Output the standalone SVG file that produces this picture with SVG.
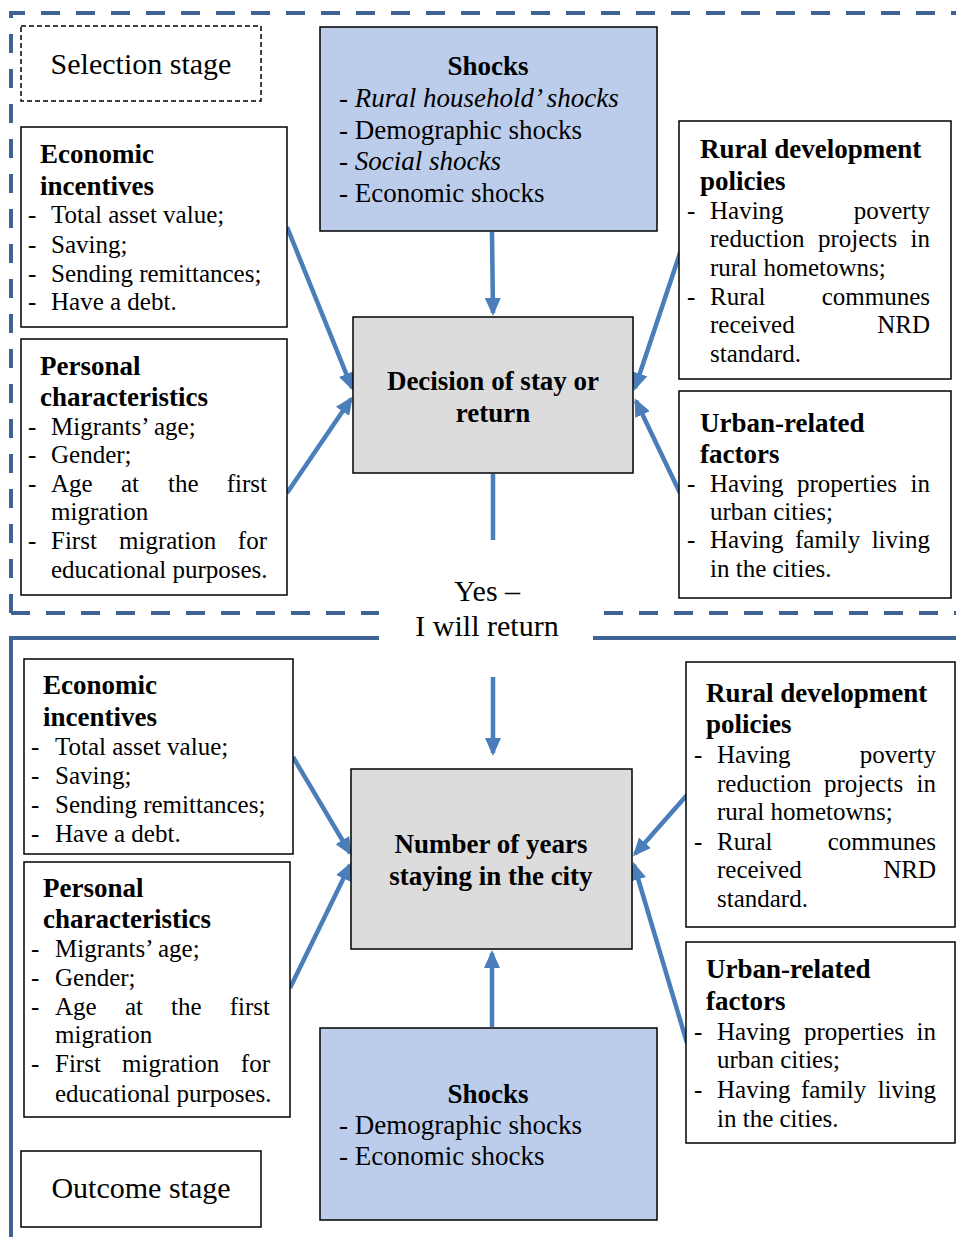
<svg xmlns="http://www.w3.org/2000/svg" width="956" height="1237" viewBox="0 0 956 1237">
<style>
text{font-family:"Liberation Serif","Times New Roman",serif;fill:#000}
.b{font-size:25px}
.h{font-size:27px;font-weight:bold}
.s{font-size:27px}
.lab{font-size:30px}
.i{font-style:italic}
.box{fill:#fff;stroke:#000;stroke-width:1.5}
.shock{fill:#BCCDEC;stroke:#000;stroke-width:1.5}
.grey{fill:#DCDCDC;stroke:#000;stroke-width:1.5}
.frame{fill:none;stroke:#3F6494;stroke-width:4}
.conn{stroke:#4A7EBB;stroke-width:4.5;fill:none}
</style>
<defs>
<marker id="ah" markerUnits="userSpaceOnUse" markerWidth="18" markerHeight="16" viewBox="0 0 18 16" refX="15" refY="8" orient="auto">
<path d="M0,0 L18,8 L0,16 Z" fill="#4A7EBB"/>
</marker>
</defs>
<rect width="956" height="1237" fill="#fff"/>
<g id="frames">
<path class="frame" d="M11,613 V13 H956" stroke-dasharray="19 16"/>
<path class="frame" d="M11,613 H379" stroke-dasharray="19 16"/>
<path class="frame" d="M604,613 H956" stroke-dasharray="19 16"/>
<path class="frame" d="M379,638 H11 V1237"/>
<path class="frame" d="M593,638 H956"/>
</g>
<g id="connectors">
<line class="conn" x1="492" y1="232" x2="493" y2="313" marker-end="url(#ah)"/>
<line class="conn" x1="287" y1="227" x2="352" y2="388" marker-end="url(#ah)"/>
<line class="conn" x1="287" y1="493" x2="351" y2="399" marker-end="url(#ah)"/>
<line class="conn" x1="681" y1="250" x2="635" y2="388" marker-end="url(#ah)"/>
<line class="conn" x1="680" y1="493" x2="636" y2="401" marker-end="url(#ah)"/>
<line class="conn" x1="493" y1="474" x2="493" y2="540"/>
<line class="conn" x1="493" y1="677" x2="493" y2="753" marker-end="url(#ah)"/>
<line class="conn" x1="293" y1="757" x2="350" y2="853" marker-end="url(#ah)"/>
<line class="conn" x1="290" y1="988" x2="350" y2="865" marker-end="url(#ah)"/>
<line class="conn" x1="687" y1="795" x2="635" y2="854" marker-end="url(#ah)"/>
<line class="conn" x1="687" y1="1043" x2="634" y2="865" marker-end="url(#ah)"/>
<line class="conn" x1="492" y1="1027" x2="492" y2="953" marker-end="url(#ah)"/>
</g>
<g id="selection-stage">
<rect x="21" y="26" width="240" height="75" fill="#fff" stroke="#000" stroke-width="1.5" stroke-dasharray="5 3"/>
<text class="lab" x="141" y="74" text-anchor="middle">Selection stage</text>
</g>
<g id="shocks-top">
<rect class="shock" x="320" y="27" width="337" height="204"/>
<text class="h" x="488" y="75" text-anchor="middle">Shocks</text>
<text class="s" x="339" y="107">- <tspan class="i">Rural household’ shocks</tspan></text>
<text class="s" x="339" y="139">- Demographic shocks</text>
<text class="s" x="339" y="170">- <tspan class="i">Social shocks</tspan></text>
<text class="s" x="339" y="202">- Economic shocks</text>
</g>
<g id="econ-top">
<rect class="box" x="21" y="127" width="266" height="200"/>
<text class="h" x="40" y="163">Economic</text>
<text class="h" x="40" y="195">incentives</text>
<text class="b" x="28" y="223">-</text><text class="b" x="51" y="223">Total asset value;</text>
<text class="b" x="28" y="253">-</text><text class="b" x="51" y="253">Saving;</text>
<text class="b" x="28" y="282">-</text><text class="b" x="51" y="282">Sending remittances;</text>
<text class="b" x="28" y="310">-</text><text class="b" x="51" y="310">Have a debt.</text>
</g>
<g id="pers-top">
<rect class="box" x="21" y="339" width="266" height="256"/>
<text class="h" x="40" y="375">Personal</text>
<text class="h" x="40" y="406">characteristics</text>
<text class="b" x="28" y="435">-</text><text class="b" x="51" y="435">Migrants’ age;</text>
<text class="b" x="28" y="463">-</text><text class="b" x="51" y="463">Gender;</text>
<text class="b" x="28" y="492">-</text><text class="b" x="51" y="492">Age</text><text class="b" x="121" y="492">at</text><text class="b" x="168" y="492">the</text><text class="b" x="267" y="492" text-anchor="end">first</text>
<text class="b" x="51" y="520">migration</text>
<text class="b" x="28" y="549">-</text><text class="b" x="51" y="549">First</text><text class="b" x="119" y="549">migration</text><text class="b" x="267" y="549" text-anchor="end">for</text>
<text class="b" x="51" y="578">educational purposes.</text>
</g>
<g id="decision">
<rect class="grey" x="353" y="317" width="280" height="156"/>
<text class="h" x="493" y="390" text-anchor="middle">Decision of stay or</text>
<text class="h" x="493" y="422" text-anchor="middle">return</text>
</g>
<g id="rural-top">
<rect class="box" x="679" y="121" width="272" height="258"/>
<text class="h" x="700" y="158">Rural development</text>
<text class="h" x="700" y="190">policies</text>
<text class="b" x="687" y="219">-</text><text class="b" x="710" y="219">Having</text><text class="b" x="930" y="219" text-anchor="end">poverty</text>
<text class="b" x="710" y="247">reduction</text><text class="b" x="818" y="247">projects</text><text class="b" x="930" y="247" text-anchor="end">in</text>
<text class="b" x="710" y="276">rural hometowns;</text>
<text class="b" x="687" y="305">-</text><text class="b" x="710" y="305">Rural</text><text class="b" x="930" y="305" text-anchor="end">communes</text>
<text class="b" x="710" y="333">received</text><text class="b" x="930" y="333" text-anchor="end">NRD</text>
<text class="b" x="710" y="362">standard.</text>
</g>
<g id="urban-top">
<rect class="box" x="679" y="391" width="272" height="207"/>
<text class="h" x="700" y="432">Urban-related</text>
<text class="h" x="700" y="463">factors</text>
<text class="b" x="687" y="492">-</text><text class="b" x="710" y="492">Having</text><text class="b" x="797" y="492">properties</text><text class="b" x="930" y="492" text-anchor="end">in</text>
<text class="b" x="710" y="520">urban cities;</text>
<text class="b" x="687" y="548">-</text><text class="b" x="710" y="548">Having</text><text class="b" x="795" y="548">family</text><text class="b" x="930" y="548" text-anchor="end">living</text>
<text class="b" x="710" y="577">in the cities.</text>
</g>
<g id="yes-label">
<text class="lab" x="487" y="601" text-anchor="middle">Yes –</text>
<text class="lab" x="487" y="636" text-anchor="middle">I will return</text>
</g>
<g id="econ-bottom">
<rect class="box" x="24" y="659" width="269" height="195"/>
<text class="h" x="43" y="694">Economic</text>
<text class="h" x="43" y="726">incentives</text>
<text class="b" x="31" y="755">-</text><text class="b" x="55" y="755">Total asset value;</text>
<text class="b" x="31" y="784">-</text><text class="b" x="55" y="784">Saving;</text>
<text class="b" x="31" y="813">-</text><text class="b" x="55" y="813">Sending remittances;</text>
<text class="b" x="31" y="842">-</text><text class="b" x="55" y="842">Have a debt.</text>
</g>
<g id="pers-bottom">
<rect class="box" x="24" y="862" width="266" height="255"/>
<text class="h" x="43" y="897">Personal</text>
<text class="h" x="43" y="928">characteristics</text>
<text class="b" x="31" y="957">-</text><text class="b" x="55" y="957">Migrants’ age;</text>
<text class="b" x="31" y="986">-</text><text class="b" x="55" y="986">Gender;</text>
<text class="b" x="31" y="1015">-</text><text class="b" x="55" y="1015">Age</text><text class="b" x="125" y="1015">at</text><text class="b" x="171" y="1015">the</text><text class="b" x="270" y="1015" text-anchor="end">first</text>
<text class="b" x="55" y="1043">migration</text>
<text class="b" x="31" y="1072">-</text><text class="b" x="55" y="1072">First</text><text class="b" x="122" y="1072">migration</text><text class="b" x="270" y="1072" text-anchor="end">for</text>
<text class="b" x="55" y="1102">educational purposes.</text>
</g>
<g id="years">
<rect class="grey" x="351" y="769" width="281" height="180"/>
<text class="h" x="491" y="853" text-anchor="middle">Number of years</text>
<text class="h" x="491" y="885" text-anchor="middle">staying in the city</text>
</g>
<g id="rural-bottom">
<rect class="box" x="686" y="662" width="269" height="265"/>
<text class="h" x="706" y="702">Rural development</text>
<text class="h" x="706" y="733">policies</text>
<text class="b" x="694" y="763">-</text><text class="b" x="717" y="763">Having</text><text class="b" x="936" y="763" text-anchor="end">poverty</text>
<text class="b" x="717" y="792">reduction</text><text class="b" x="824" y="792">projects</text><text class="b" x="936" y="792" text-anchor="end">in</text>
<text class="b" x="717" y="820">rural hometowns;</text>
<text class="b" x="694" y="850">-</text><text class="b" x="717" y="850">Rural</text><text class="b" x="936" y="850" text-anchor="end">communes</text>
<text class="b" x="717" y="878">received</text><text class="b" x="936" y="878" text-anchor="end">NRD</text>
<text class="b" x="717" y="907">standard.</text>
</g>
<g id="urban-bottom">
<rect class="box" x="686" y="942" width="269" height="201"/>
<text class="h" x="706" y="978">Urban-related</text>
<text class="h" x="706" y="1010">factors</text>
<text class="b" x="694" y="1040">-</text><text class="b" x="717" y="1040">Having</text><text class="b" x="804" y="1040">properties</text><text class="b" x="936" y="1040" text-anchor="end">in</text>
<text class="b" x="717" y="1068">urban cities;</text>
<text class="b" x="694" y="1098">-</text><text class="b" x="717" y="1098">Having</text><text class="b" x="801" y="1098">family</text><text class="b" x="936" y="1098" text-anchor="end">living</text>
<text class="b" x="717" y="1127">in the cities.</text>
</g>
<g id="shocks-bottom">
<rect class="shock" x="320" y="1028" width="337" height="192"/>
<text class="h" x="488" y="1103" text-anchor="middle">Shocks</text>
<text class="s" x="339" y="1134">- Demographic shocks</text>
<text class="s" x="339" y="1165">- Economic shocks</text>
</g>
<g id="outcome-stage">
<rect class="box" x="21" y="1151" width="240" height="76"/>
<text class="lab" x="141" y="1198" text-anchor="middle">Outcome stage</text>
</g>
</svg>
